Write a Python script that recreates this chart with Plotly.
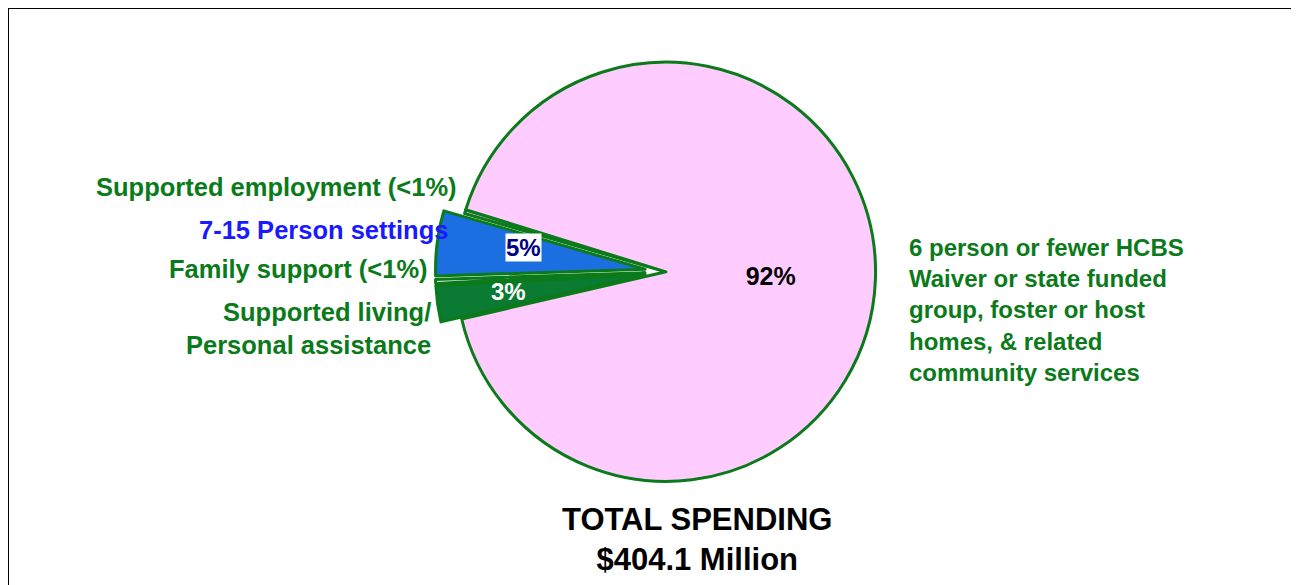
import plotly.graph_objects as go

labels = ["Supported living/ Personal assistance", "Family support (<1%)", "7-15 Person settings",
          "Supported employment (<1%)", "6 person or fewer HCBS"]
values = [2.8, 0.3, 5.0, 0.3, 91.6]
inside_text = ["", "", "", "", "<b>92%</b>"]
colors = ["#0b7a32", "#ffffff", "#1c6fe0", "#ffccff", "#ffccff"]
pulls = [0.1, 0.1, 0.1, 0.0, 0.0]
small_pcts = ["5%", "3%"]

W, H = 1299, 585
OFF = 6  # page offset


def px(x):
    return (x - OFF) / W


def py(y):
    return 1 - (y - OFF) / H


fig = go.Figure(go.Pie(
    labels=labels, values=values, sort=False, direction="clockwise", rotation=257,
    pull=pulls, text=inside_text, textinfo="text", textposition="inside",
    insidetextorientation="horizontal",
    textfont=dict(family="Liberation Sans", size=25, color="black"),
    marker=dict(colors=colors, line=dict(color="#0b7a1a", width=3)),
    domain=dict(x=[0.329, 0.684], y=[0.154, 0.944]),
    showlegend=False, hoverinfo="label+percent",
))

green = "#0b7a1a"
font = "Liberation Sans"
notes = [
    (457, 185, "Supported employment (<1%)", green, "right", 25.5),
    (448, 228, "7-15 Person settings", "#1a1aff", "right", 25.5),
    (428, 267, "Family support (<1%)", green, "right", 25.5),
    (431, 326, "Supported living/<br>Personal assistance", green, "right", 25.5),
    (905, 308, "6 person or fewer HCBS<br>Waiver or state funded<br>group, foster or host<br>homes, & related<br>community services", green, "left", 24),
]
anns = []
for x, y, t, c, al, s in notes:
    anns.append(dict(x=px(x), y=py(y), xref="paper", yref="paper", text="<b>" + t + "</b>",
                     showarrow=False, xanchor=al, yanchor="middle", align=al,
                     font=dict(family=font, size=s, color=c)))
anns.append(dict(x=px(521), y=py(245), xref="paper", yref="paper", text="<b>" + small_pcts[0] + "</b>",
                 showarrow=False, bgcolor="white", borderpad=0,
                 font=dict(family=font, size=24, color="#000080")))
anns.append(dict(x=px(506), y=py(289), xref="paper", yref="paper", text="<b>" + small_pcts[1] + "</b>",
                 showarrow=False, font=dict(family=font, size=24, color="white")))
anns.append(dict(x=px(695), y=py(537), xref="paper", yref="paper",
                 text="<b>TOTAL SPENDING<br>$404.1 Million</b>", showarrow=False,
                 xanchor="center", yanchor="middle", font=dict(family=font, size=31, color="black")))

fig.update_layout(
    width=W, height=H, margin=dict(l=0, r=0, t=0, b=0),
    paper_bgcolor="white", annotations=anns,
    shapes=[dict(type="rect", xref="paper", yref="paper", x0=0, y0=0, x1=0.997, y1=1,
                 line=dict(color="black", width=2))],
)
fig.write_html("out.html")
